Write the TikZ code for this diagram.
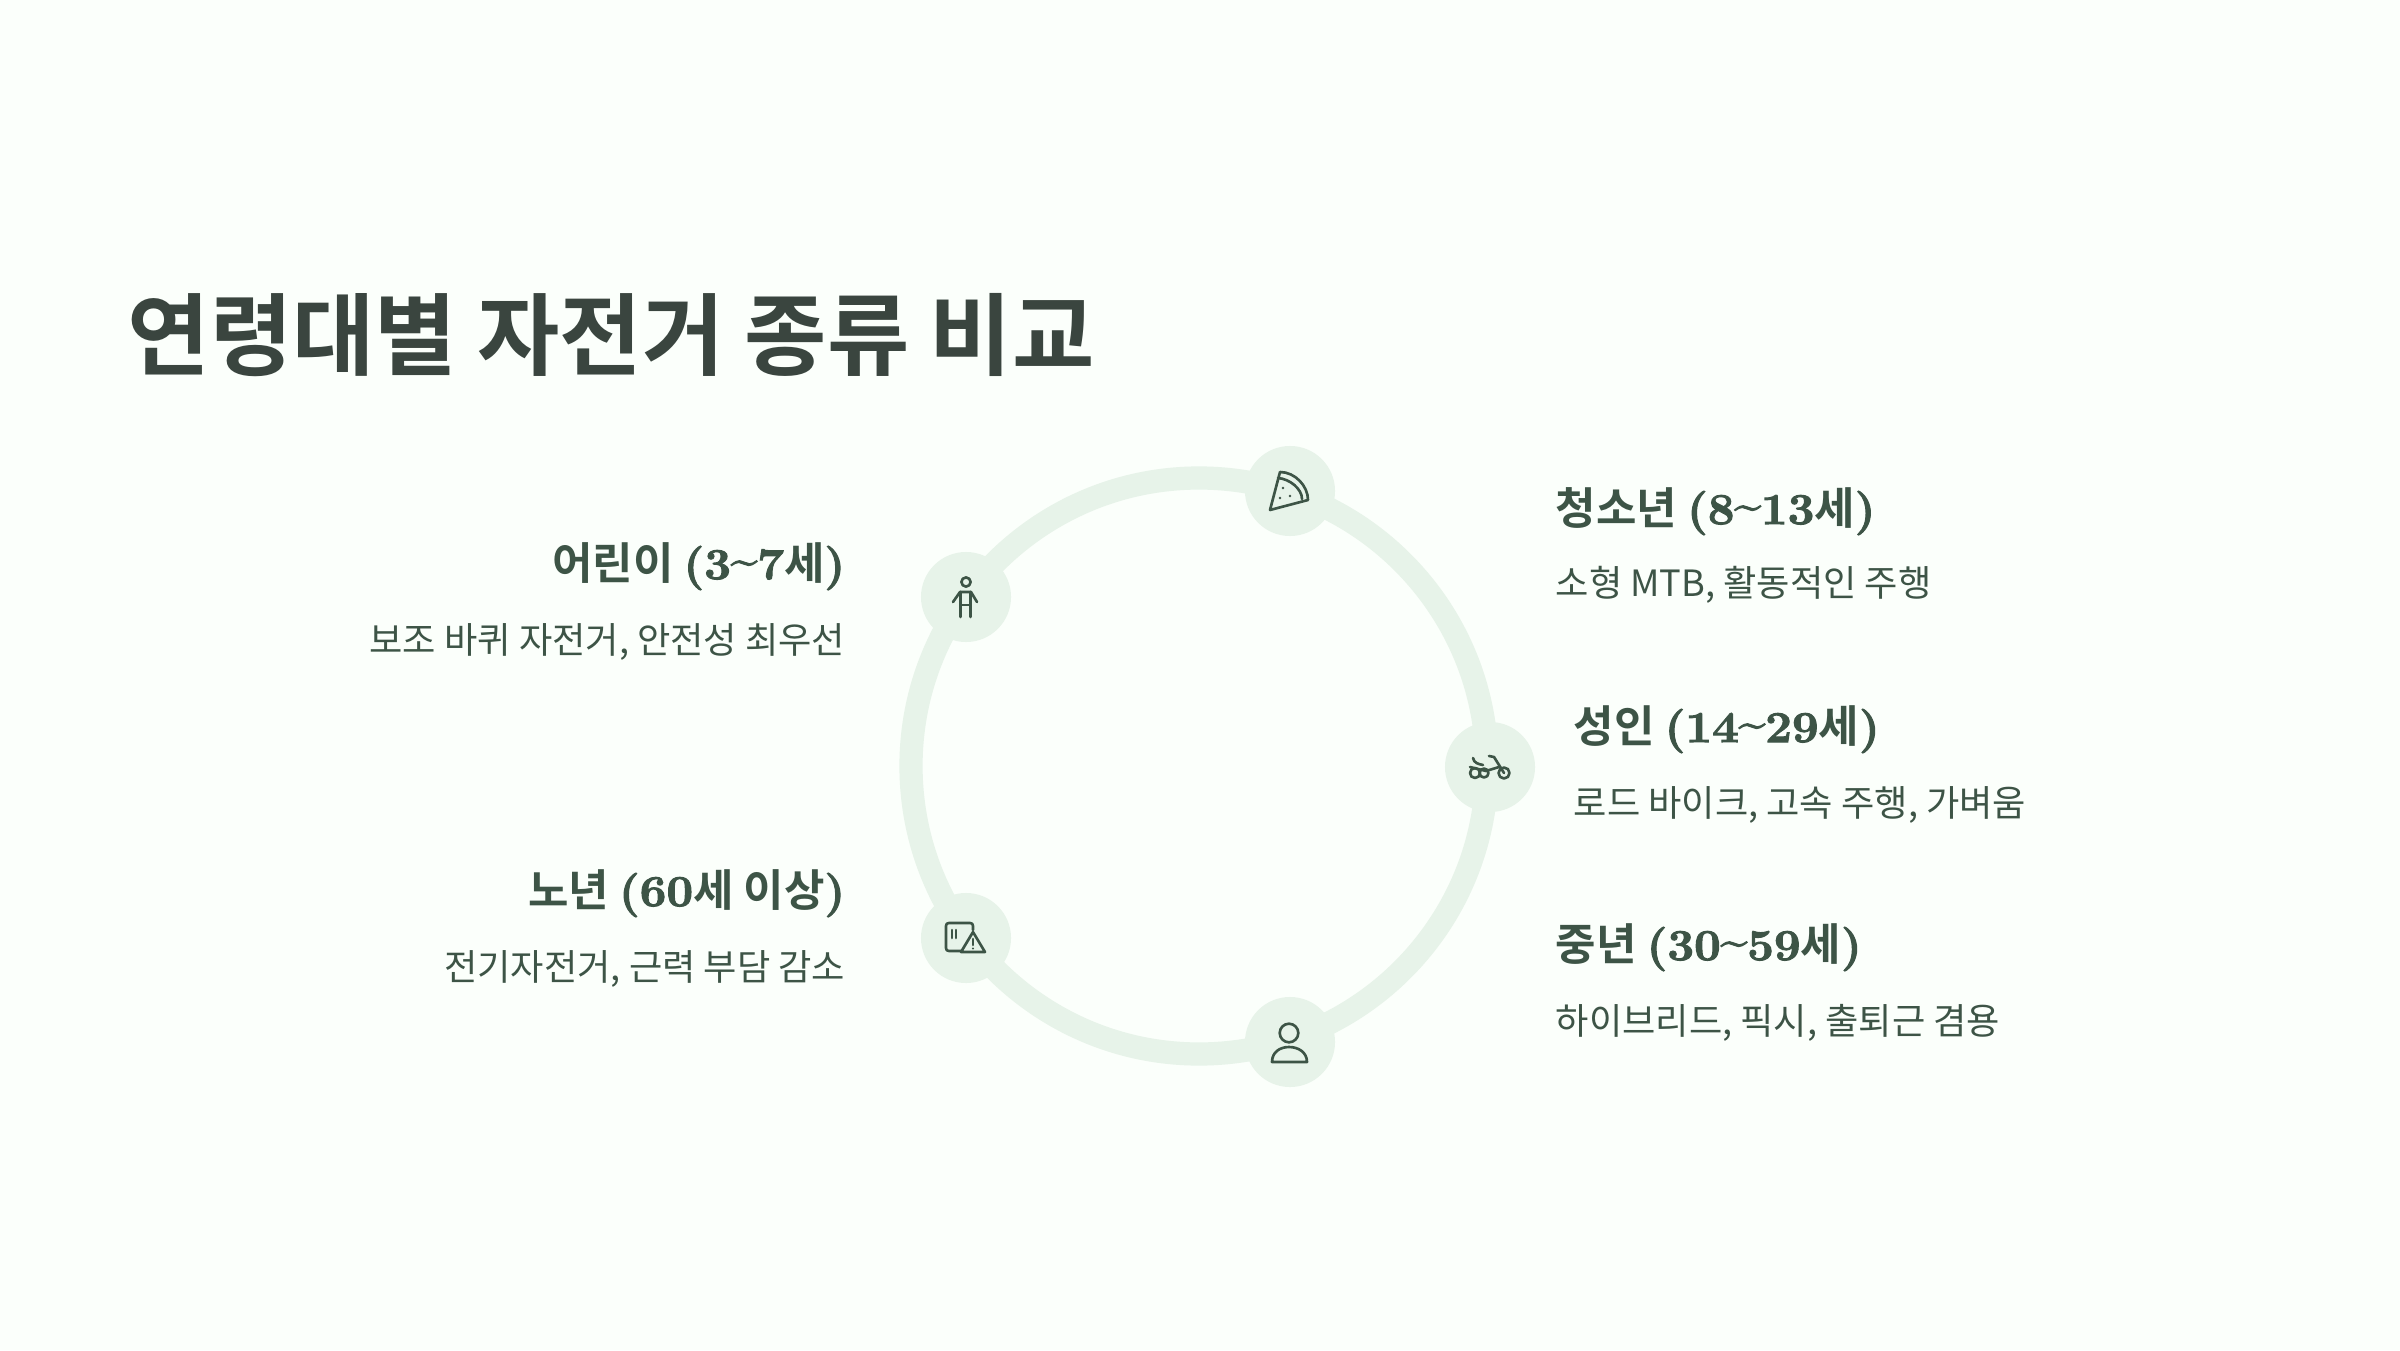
\documentclass[tikz,border=0pt]{standalone}
\usepackage{fontspec}
\usepackage{xcolor}
\newfontfamily\cjkreg{Noto Sans CJK KR}
\newfontfamily\cjkbold{Noto Sans CJK KR Bold}
\newfontfamily\latinhd[FakeBold=2.4,FakeStretch=1.08]{Latin Modern Roman}
\newcommand{\hl}[1]{{\latinhd\bfseries #1}}
\definecolor{papier}{HTML}{FBFFFB}
\definecolor{ringgr}{HTML}{E7F3E9}
\definecolor{dunkel}{HTML}{3D5446}
\definecolor{titelgr}{HTML}{3A453F}
\tikzset{
  ringlinie/.style={ringgr,line width=6.6pt},
  badge/.style={circle,fill=ringgr,minimum size=0.9cm,inner sep=0pt},
  icon/.style={dunkel,line width=0.75pt,line cap=round,line join=round},
  titel/.style={titelgr,anchor=base west,inner sep=0pt,font=\cjkbold\fontsize{25.45}{30}\selectfont},
  kopf/.style={dunkel,inner sep=0pt,font=\cjkbold\fontsize{12.5}{15}\selectfont},
  zeile/.style={dunkel,inner sep=0pt,font=\cjkreg\fontsize{10.3}{13}\selectfont},
}
\begin{document}
\begin{tikzpicture}[x=0.01cm,y=0.01cm]
  \fill[papier] (0,0) rectangle (2400,1350);
  \useasboundingbox (0,0) rectangle (2400,1350);
  \node[titel] (title) at (127,982) {연령대별 자전거 종류 비교};
  \coordinate (mitte) at (1199,584);
  \draw[ringlinie] (mitte) circle (288);
  \node[badge] (teen) at (1290,859) {};
  \node[badge] (adult) at (1490,583) {};
  \node[badge] (middle) at (1290,308) {};
  \node[badge] (senior) at (966,412) {};
  \node[badge] (child) at (966,753) {};
  % pizza
  \begin{scope}[shift={(teen.center)},icon]
    \draw (-20,-19)--(-10,19) .. controls (5,19) and (18,5) .. (18,-9)--cycle;
    \draw (-12,13) .. controls (0,12) and (12,2) .. (12,-8);
    \fill (-7,3) circle (1.4);
    \fill (-10,-7) circle (1.4);
    \fill (0,-5) circle (1.4);
  \end{scope}
  % bicycle
  \begin{scope}[shift={(adult.center)},icon]
    \draw (14,-6) circle (5.5);
    \draw (-15,-6) circle (5);
    \draw (-6,-6) circle (4.5);
    \draw (-1,11)--(4,10)--(14,-6);
    \draw (-20,0)--(-4,-4)--(9,0);
    \draw (-17,9) .. controls (-16,4) and (-12,3) .. (-7,2);
  \end{scope}
  % person
  \begin{scope}[shift={(middle.center)},icon]
    \draw (-1,9) circle (9.3);
    \draw (-18,-20) .. controls (-18,-10) and (-10,-5) .. (-1,-5) .. controls (8,-5) and (17,-10) .. (17,-20)--cycle;
  \end{scope}
  % warning
  \begin{scope}[shift={(senior.center)},icon]
    \draw (-5,-13)--(-17,-13) .. controls (-19,-13) and (-20,-12) .. (-20,-10)--(-20,12) .. controls (-20,14) and (-19,15) .. (-17,15)--(4,15) .. controls (6,15) and (7,14) .. (7,12)--(7,8);
    \draw (-14,8)--(-14,0);
    \draw (-10,8)--(-10,0);
    \draw (7,6)--(-5,-14)--(19,-14)--cycle;
    \draw (7,-1)--(7,-7);
    \fill (7,-10.5) circle (1.2);
  \end{scope}
  % child
  \begin{scope}[shift={(child.center)},icon]
    \draw (0,15) circle (4.6);
    \draw (-13,-5)--(-6,5)--(5,5)--(11,-5);
    \draw (-5.5,5)--(-5.5,-20);
    \draw (4.5,5)--(4.5,-20);
    \draw (-5.5,-8)--(4.5,-8);
  \end{scope}
  \node[kopf,anchor=base west] (teenhead) at (1555,826) {청소년 \hl{(8\raisebox{0.25ex}{\textasciitilde}13}세\hl{)}};
  \node[zeile,anchor=base west] (teentext) at (1555,754) {소형 MTB, 활동적인 주행};
  \node[kopf,anchor=base west] (adulthead) at (1573,608) {성인 \hl{(14\raisebox{0.25ex}{\textasciitilde}29}세\hl{)}};
  \node[zeile,anchor=base west] (adulttext) at (1573,534) {로드 바이크, 고속 주행, 가벼움};
  \node[kopf,anchor=base west] (middlehead) at (1555,390) {중년 \hl{(30\raisebox{0.25ex}{\textasciitilde}59}세\hl{)}};
  \node[zeile,anchor=base west] (middletext) at (1555,316) {하이브리드, 픽시, 출퇴근 겸용};
  \node[kopf,anchor=base east] (childhead) at (846,771) {어린이 \hl{(3\raisebox{0.25ex}{\textasciitilde}7}세\hl{)}};
  \node[zeile,anchor=base east] (childtext) at (846,697) {보조 바퀴 자전거, 안전성 최우선};
  \node[kopf,anchor=base east] (seniorhead) at (846,444) {노년 \hl{(60}세 이상\hl{)}};
  \node[zeile,anchor=base east] (seniortext) at (846,370) {전기자전거, 근력 부담 감소};
\end{tikzpicture}
\end{document}
